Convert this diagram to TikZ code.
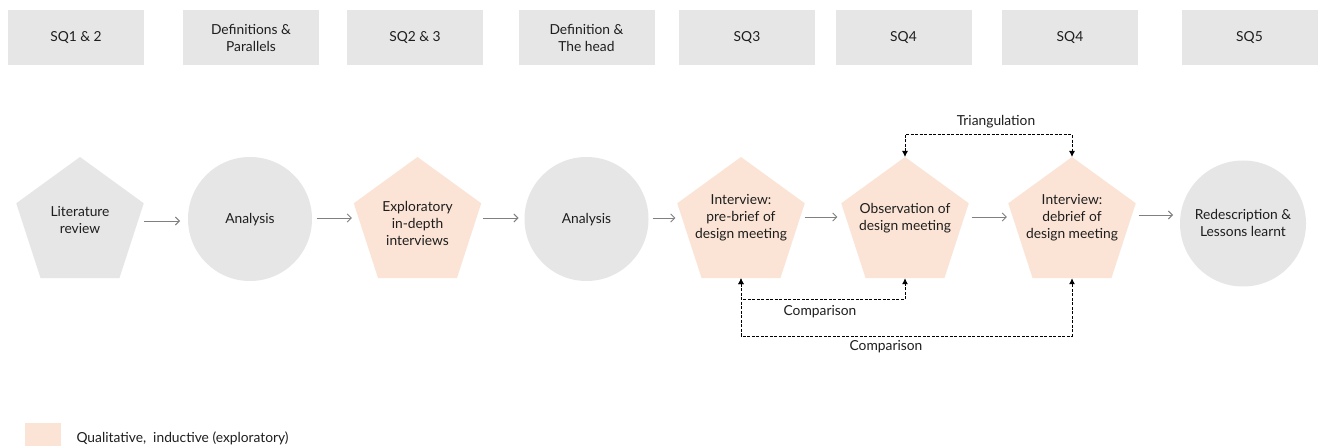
\documentclass[tikz,border=0pt]{standalone}
\usepackage{fontspec}
\setmainfont{Lato}
\usetikzlibrary{shapes.geometric,arrows.meta}
\definecolor{boxgray}{HTML}{E6E6E6}
\definecolor{peach}{HTML}{FBE4D5}
\definecolor{arrowgray}{HTML}{808080}
\definecolor{ink}{HTML}{1E1E1E}
\tikzset{
  base/.style={font=\fontsize{13.8}{17}\selectfont, text=ink, align=center},
  sqbox/.style={base, rectangle, fill=boxgray, draw=none, minimum width=136pt, minimum height=55pt, inner sep=0pt},
  pent/.style={regular polygon, regular polygon sides=5, minimum size=134pt, inner sep=0pt, outer sep=0pt, draw=none},
  grayshape/.style={fill=boxgray},
  peachshape/.style={fill=peach},
  roundstep/.style={circle, fill=boxgray, draw=none, minimum size=124pt, inner sep=0pt, outer sep=0pt},
  label/.style={base},
  garrow/.style={draw=arrowgray, line width=0.9pt, -{Straight Barb[length=4pt,width=8pt]}},
  dlink/.style={draw=black, line width=0.9pt, dash pattern=on 3pt off 1.5pt, {Latex[length=6pt,width=6pt]}-{Latex[length=6pt,width=6pt]}},
}
\begin{document}
\begin{tikzpicture}[x=1pt,y=-1pt]
\clip (0,0) rectangle (1322,446);
\fill[white] (0,0) rectangle (1322,446);

% sub-question header boxes
\node[sqbox] (h1) at (76,38) {SQ1 \& 2};
\node[sqbox] (h2) at (251,38) {Definitions \&\\Parallels};
\node[sqbox] (h3) at (415,38) {SQ2 \& 3};
\node[sqbox] (h4) at (586.5,38) {Definition \&\\The head};
\node[sqbox] (h5) at (747,38) {SQ3};
\node[sqbox] (h6) at (903.5,38) {SQ4};
\node[sqbox] (h7) at (1070,38) {SQ4};
\node[sqbox] (h8) at (1249.5,38) {SQ5};

% process steps
\node[pent, grayshape] (lit) at (80,224) {};
\node[label] (litT) at (80,220.5) {Literature\\review};
\node[roundstep] (ana1) at (250,219) {};
\node[label] (ana1T) at (250,220) {Analysis};
\node[pent, peachshape] (exp) at (417.5,224) {};
\node[label] (expT) at (417.5,223.5) {Exploratory\\in-depth\\interviews};
\node[roundstep] (ana2) at (586.5,219) {};
\node[label] (ana2T) at (586.5,220) {Analysis};
\node[pent, peachshape] (pre) at (741,224) {};
\node[label] (preT) at (741,217.5) {Interview:\\pre-brief of\\design meeting};
\node[pent, peachshape] (obs) at (905,224) {};
\node[label] (obsT) at (905,218.5) {Observation of\\design meeting};
\node[pent, peachshape] (deb) at (1072,224) {};
\node[label] (debT) at (1072,217.5) {Interview:\\debrief of\\design meeting};
\node[roundstep, minimum size=126pt] (red) at (1243,223.5) {};
\node[label] (redT) at (1243,223) {Redescription \&\\Lessons learnt};

% flow arrows (pentagon corner 2 = left shoulder, corner 5 = right shoulder)
\draw[garrow, shorten <=0.5pt, shorten >=8pt] (lit.corner 5 |- 0,221) -- (ana1.west |- 0,221);
\draw[garrow, shorten <=4.5pt, shorten >=2pt] (ana1.east |- 0,218) -- (exp.corner 2 |- 0,218);
\draw[garrow, shorten <=2pt, shorten >=6pt] (exp.corner 5 |- 0,218) -- (ana2.west |- 0,218);
\draw[garrow, shorten <=4pt, shorten >=2pt] (ana2.east |- 0,218) -- (pre.corner 2 |- 0,218);
\draw[garrow, shorten <=0pt, shorten >=4pt] (pre.corner 5 |- 0,217) -- (obs.corner 2 |- 0,217);
\draw[garrow, shorten <=3pt, shorten >=1.5pt] (obs.corner 5 |- 0,217) -- (deb.corner 2 |- 0,217);
\draw[garrow, shorten <=3pt, shorten >=7pt] (deb.corner 5 |- 0,215) -- (red.west |- 0,215);

% triangulation and comparison links
\coordinate (tri) at (0,134.5);
\coordinate (cmpA) at (0,299.5);
\coordinate (cmpB) at (0,336);
\draw[dlink] (obs.corner 1) -- (obs.corner 1 |- tri) -- (deb.corner 1 |- tri) -- (deb.corner 1);
\node[label] (triT) at (996,122) {Triangulation};
\draw[dlink] (pre.south) -- (pre.south |- cmpA) -- (obs.south |- cmpA) -- (obs.south);
\node[label] (cmpAT) at (820,312) {Comparison};
\draw[dlink] (pre.south) -- (pre.south |- cmpB) -- (deb.south |- cmpB) -- (deb.south);
\node[label] (cmpBT) at (886,347) {Comparison};

% legend
\node[rectangle, fill=peach, minimum width=36pt, minimum height=36pt, inner sep=0pt] (legbox) at (43,441) {};
\node[label, anchor=west] (legT) at (73,438) {Qualitative,\ \ inductive (exploratory)};
\end{tikzpicture}
\end{document}
